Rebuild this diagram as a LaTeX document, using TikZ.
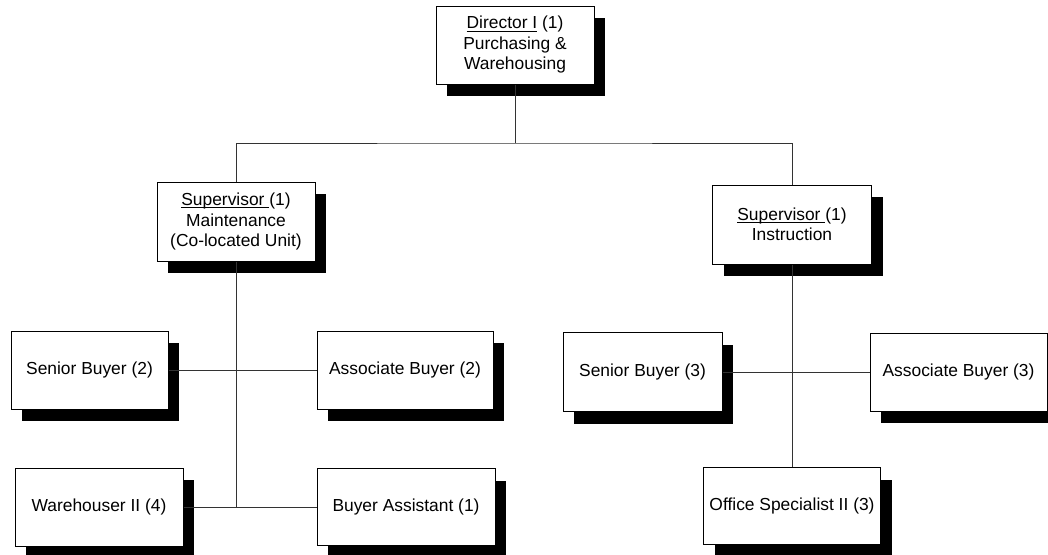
\documentclass[tikz,border=0pt]{standalone}
\usepackage{fontspec}
\setmainfont{Liberation Sans}
\usetikzlibrary{shadows}
% underline set close to the baseline
\newcommand{\ulclose}[1]{\setbox0\hbox{#1}\rlap{\vrule height -1.7pt depth 2.9pt width \wd0}\box0\relax}
\begin{document}
\begin{tikzpicture}[x=1pt,y=-1pt,
  orgbox/.style={draw=black, line width=1pt, fill=white, align=center,
    inner sep=0pt, font=\fontsize{17.4}{20.5}\selectfont,
    drop shadow={shadow xshift=11pt, shadow yshift=-12pt, opacity=1, fill=black}},
  link/.style={draw=black!80, line width=0.8pt}]
\useasboundingbox (0,0) rectangle (1048,554);

% top level
\node[orgbox, minimum width=158pt, minimum height=78pt] (dir) at (515,45)
  {\ulclose{Director I} (1)\\Purchasing \&\\Warehousing};

% supervisors
\node[orgbox, minimum width=158pt, minimum height=79pt] (supM) at (236,221.5)
  {\ulclose{Supervisor\ }(1)\\Maintenance\\(Co-located Unit)};
\node[orgbox, minimum width=159pt, minimum height=79pt] (supI) at (792,224.5)
  {\ulclose{Supervisor\ }(1)\\Instruction};

% maintenance staff
\node[orgbox, minimum width=157pt, minimum height=78pt] (sb2) at (89.5,370)
  {Senior Buyer (2)};
\node[orgbox, minimum width=176pt, minimum height=78pt] (ab2) at (405,370)
  {Associate Buyer (2)};
\node[orgbox, minimum width=168pt, minimum height=78pt] (wh) at (99,507)
  {Warehouser II (4)};
\node[orgbox, minimum width=178pt, minimum height=77pt] (ba) at (406,507)
  {Buyer Assistant (1)};

% instruction staff
\node[orgbox, minimum width=159pt, minimum height=79pt] (sb3) at (642.5,372)
  {Senior Buyer (3)};
\node[orgbox, minimum width=177pt, minimum height=78pt] (ab3) at (958.5,372)
  {Associate Buyer (3)};
\node[orgbox, minimum width=177pt, minimum height=77pt] (os) at (792,506)
  {Office Specialist II (3)};

% junctions
\coordinate (j0) at (515,143);
\coordinate (jM) at (236,507);

% connectors
\begin{scope}[on background layer/.try]
\draw[link] (dir.south) -- (j0);
\draw[link] (supM.north) |- (j0) -| (supI.north);
\draw[link] (supM.south) -- (jM);
\draw[link] (sb2.east) -- (ab2.west);
\draw[link] (wh.east) -- (ba.west);
\draw[link] (supI.south) -- (os.north);
\draw[link] (sb3.east) -- (ab3.west);
\end{scope}
\end{tikzpicture}
\end{document}
